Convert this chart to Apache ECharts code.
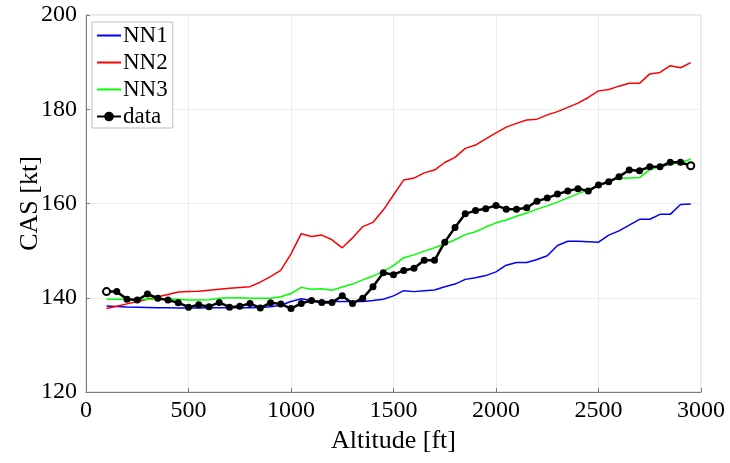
<!DOCTYPE html>
<html>
<head>
<meta charset="utf-8">
<script src="https://cdn.jsdelivr.net/npm/echarts@6/dist/echarts.min.js"></script>
<style>
  html, body { margin: 0; padding: 0; background: #fff; }
  #chart { width: 730px; height: 463px; }
</style>
</head>
<body>
<div id="chart"></div>
<script>
// altitude [ft], one value every 50 ft
const altitude = [
  100, 150, 200, 250, 300, 350, 400, 450, 500, 550,
  600, 650, 700, 750, 800, 850, 900, 950, 1000, 1050,
  1100, 1150, 1200, 1250, 1300, 1350, 1400, 1450, 1500, 1550,
  1600, 1650, 1700, 1750, 1800, 1850, 1900, 1950, 2000, 2050,
  2100, 2150, 2200, 2250, 2300, 2350, 2400, 2450, 2500, 2550,
  2600, 2650, 2700, 2750, 2800, 2850, 2900, 2950
]

const nn1 = [
  138.25, 138.15, 138.05, 138.0, 137.95, 137.9, 137.9, 137.85, 137.8, 137.85,
  137.9, 137.9, 137.9, 137.9, 137.9, 137.95, 138.1, 138.4, 139.2, 139.8,
  139.4, 139.2, 139.2, 139.2, 139.2, 139.2, 139.4, 139.7, 140.4, 141.5,
  141.3, 141.5, 141.65, 142.35, 142.9, 143.9, 144.25, 144.7, 145.5, 146.9,
  147.5, 147.5, 148.1, 148.9, 151.1, 152.0, 152.0, 151.9, 151.8, 153.3,
  154.2, 155.4, 156.65, 156.65, 157.7, 157.7, 159.8, 159.9
]

const nn2 = [
  137.7, 138.2, 138.7, 139.2, 139.7, 140.2, 140.7, 141.2, 141.3, 141.4,
  141.6, 141.8, 142.0, 142.2, 142.35, 143.3, 144.5, 145.8, 149.3, 153.6,
  153.0, 153.3, 152.3, 150.6, 152.7, 155.1, 156.0, 158.6, 161.8, 165.0,
  165.4, 166.5, 167.1, 168.7, 169.8, 171.7, 172.4, 173.7, 175.0, 176.2,
  177.0, 177.7, 177.9, 178.8, 179.5, 180.4, 181.3, 182.5, 183.9, 184.2,
  184.9, 185.5, 185.5, 187.5, 187.8, 189.25, 188.8, 189.9
]

const nn3 = [
  139.7, 139.7, 139.7, 139.7, 139.7, 139.7, 139.7, 139.7, 139.5, 139.5,
  139.6, 139.9, 140.0, 140.0, 139.9, 139.9, 139.9, 140.2, 140.9, 142.2,
  141.8, 141.9, 141.6, 142.3, 142.9, 143.8, 144.6, 145.6, 146.8, 148.5,
  149.1, 149.9, 150.6, 151.4, 152.3, 153.4, 154.0, 155.0, 155.9, 156.5,
  157.3, 158.0, 158.8, 159.5, 160.3, 161.2, 162.1, 162.9, 164.0, 164.8,
  165.3, 165.4, 165.5, 167.2, 167.8, 168.3, 168.7, 169.4
]

const measured = [
  141.3, 141.3, 139.7, 139.5, 140.8, 139.9, 139.5, 138.95, 138.0, 138.5,
  138.1, 139.0, 138.0, 138.2, 138.8, 137.8, 138.95, 138.7, 137.7, 138.8,
  139.4, 139.0, 139.0, 140.4, 138.8, 139.9, 142.35, 145.3, 144.9, 145.8,
  146.25, 147.95, 147.95, 151.8, 154.9, 157.8, 158.5, 158.9, 159.6, 158.8,
  158.8, 159.1, 160.5, 161.15, 162.0, 162.65, 163.15, 162.65, 163.9, 164.6,
  165.7, 167.1, 166.96, 167.8, 167.8, 168.75, 168.75, 168.0
]

const FONT = 'Liberation Serif'

function pairs(values) {
  return altitude.map((a, i) => [a, values[i]])
}

// first and last samples are drawn as open circles
function dataPoints() {
  const last = altitude.length - 1
  return altitude.map((a, i) => {
    if (i === 0 || i === last) {
      return { value: [a, measured[i]], itemStyle: { color: '#fff', borderColor: '#000', borderWidth: 2 } }
    }
    return [a, measured[i]]
  })
}

function modelLine(name, color, values) {
  return {
    name: name,
    type: 'line',
    data: pairs(values),
    symbol: 'none',
    lineStyle: { color: color, width: 1.5 },
    // hides the dot in the legend icon, keeps only the line
    itemStyle: { color: color, opacity: 0 },
    z: 2
  }
}

const chart = echarts.init(document.getElementById('chart'), null, { renderer: 'canvas' })

chart.setOption({
  animation: false,
  backgroundColor: '#fff',
  grid: {
    left: 86,
    right: 29,
    top: 15,
    bottom: 71,
    outerBoundsMode: 'none',
    show: true,
    borderColor: '#cfcfcf',
    borderWidth: 1
  },
  legend: {
    orient: 'vertical',
    left: 92,
    top: 22,
    itemWidth: 24,
    itemHeight: 12,
    itemGap: 4,
    padding: [2, 5, 0, 4],
    backgroundColor: '#fff',
    borderColor: '#bdbdbd',
    borderWidth: 1,
    borderRadius: 0,
    textStyle: { fontFamily: FONT, fontSize: 23, color: '#000', padding: [0, 0, 0, -3] },
    data: ['NN1', 'NN2', 'NN3', 'data']
  },
  xAxis: {
    type: 'value',
    min: 0,
    max: 3000,
    interval: 500,
    name: 'Altitude [ft]',
    nameLocation: 'middle',
    nameGap: 33,
    nameTextStyle: { fontFamily: FONT, fontSize: 26, color: '#000' },
    axisLine: { show: true, lineStyle: { color: '#7a7a7a' } },
    axisTick: { show: true, inside: true, length: 4, lineStyle: { color: '#7a7a7a' } },
    axisLabel: { fontFamily: FONT, fontSize: 24, color: '#000', margin: 7, formatter: v => String(v) },
    splitLine: { show: true, lineStyle: { color: '#ececec' } }
  },
  yAxis: {
    type: 'value',
    min: 120,
    max: 200,
    interval: 20,
    name: 'CAS [kt]',
    nameLocation: 'middle',
    nameGap: 43,
    nameMoveOverlap: false,
    nameRotate: 90,
    nameTextStyle: { fontFamily: FONT, fontSize: 26, color: '#000' },
    axisLine: { show: true, lineStyle: { color: '#7a7a7a' } },
    axisTick: { show: true, inside: true, length: 4, lineStyle: { color: '#7a7a7a' } },
    axisLabel: { fontFamily: FONT, fontSize: 24, color: '#000', margin: 9 },
    splitLine: { show: true, lineStyle: { color: '#ececec' } }
  },
  series: [
    modelLine('NN1', '#0000ff', nn1),
    modelLine('NN2', '#ff0000', nn2),
    modelLine('NN3', '#00ff00', nn3),
    {
      name: 'data',
      type: 'line',
      data: dataPoints(),
      symbol: 'circle',
      symbolSize: 7,
      showAllSymbol: true,
      lineStyle: { color: '#000', width: 2.5 },
      itemStyle: { color: '#000' },
      z: 3
    }
  ]
})
</script>
</body>
</html>
